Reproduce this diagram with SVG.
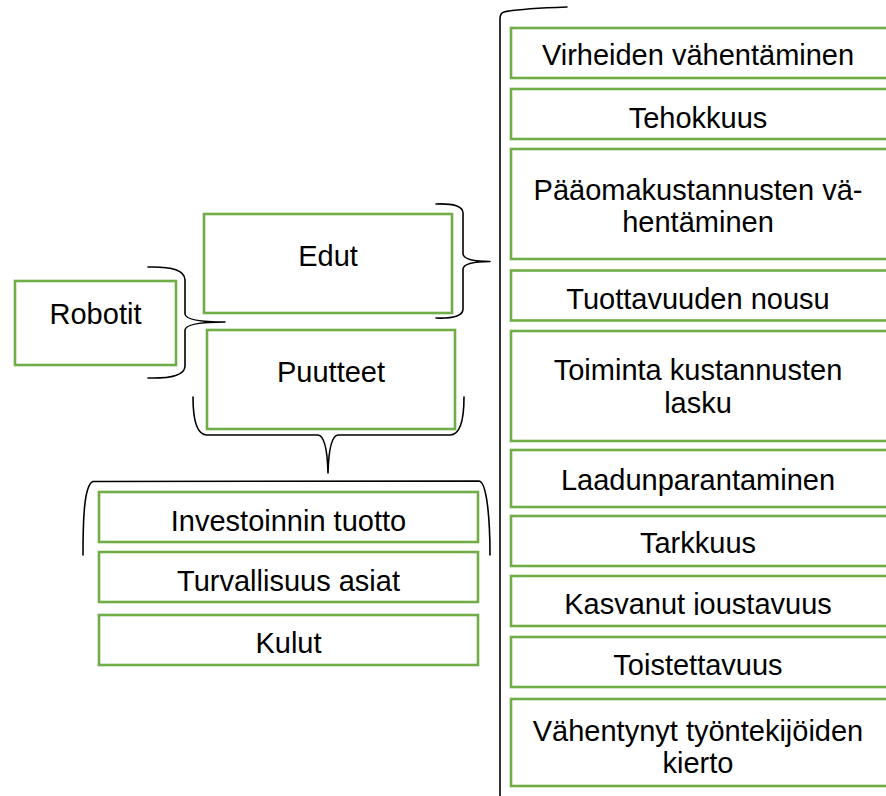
<svg xmlns="http://www.w3.org/2000/svg" width="886" height="796" viewBox="0 0 886 796">
  <style>
    .box { fill: #FFFFFF; stroke: #70AD47; stroke-width: 2.6; }
    .lbl { font-family: "Liberation Sans", Arial, sans-serif; font-size: 29px; fill: #000000; text-anchor: middle; }
    .brace { fill: none; stroke: #000000; stroke-width: 1.6; stroke-linecap: round; stroke-linejoin: round; }
  </style>
  <defs>
    <clipPath id="clip-kasvanut">
      <rect x="511" y="576" width="380" height="39"/>
    </clipPath>
  </defs>
  <rect width="886" height="796" fill="#FFFFFF"/>

  <!-- brackets -->
  <g id="connectors">
    <path class="brace" d="M148,267 Q185,266 185,280 L185,314 Q186,322 225,322 M225,322 Q186,322 185,330 L185,366 Q185,379 148,378"/>
    <path class="brace" d="M436,204 Q463,203 463,213 L463,254 Q464,261.5 490,261.5 M490,261.5 Q464,261.5 463,269 L463,309 Q463,319 436,318"/>
    <path class="brace" d="M193,397 Q193,435 207,435 L318,435 Q327,436 328,473 M328,473 Q329,436 338,435 L450,435 Q464,435 464,397"/>
    <path class="brace" d="M83,555 C83,520 84,485 93,481.5 L479,481 C487,482 490,520 490,555"/>
    <path class="brace" d="M567,7 C540,8 512,10 504,12 Q500,13 500,19 L500,800"/>
  </g>

  <g id="robotit">
    <rect class="box" x="15" y="281" width="161" height="84"/>
    <text class="lbl" x="95.5" y="324">Robotit</text>
  </g>
  <g id="edut">
    <rect class="box" x="204" y="214" width="248" height="99"/>
    <text class="lbl" x="328" y="266">Edut</text>
  </g>
  <g id="puutteet">
    <rect class="box" x="207" y="330" width="248" height="99"/>
    <text class="lbl" x="331" y="382">Puutteet</text>
  </g>

  <g id="investoinnin-tuotto">
    <rect class="box" x="99" y="492" width="379" height="50"/>
    <text class="lbl" x="288.5" y="531">Investoinnin tuotto</text>
  </g>
  <g id="turvallisuus-asiat">
    <rect class="box" x="99" y="552" width="379" height="50"/>
    <text class="lbl" x="288.5" y="591">Turvallisuus asiat</text>
  </g>
  <g id="kulut">
    <rect class="box" x="99" y="615" width="379" height="50"/>
    <text class="lbl" x="288.5" y="653">Kulut</text>
  </g>

  <g id="virheiden-vahentaminen">
    <rect class="box" x="511" y="28" width="385" height="50"/>
    <text class="lbl" x="698" y="65">Virheiden vähentäminen</text>
  </g>
  <g id="tehokkuus">
    <rect class="box" x="511" y="89" width="385" height="50"/>
    <text class="lbl" x="698" y="128">Tehokkuus</text>
  </g>
  <g id="paaomakustannusten-vahentaminen">
    <rect class="box" x="511" y="149" width="385" height="110"/>
    <text class="lbl" x="698" y="200">Pääomakustannusten vä-</text>
    <text class="lbl" x="698" y="232">hentäminen</text>
  </g>
  <g id="tuottavuuden-nousu">
    <rect class="box" x="511" y="270.5" width="385" height="50"/>
    <text class="lbl" x="698" y="309">Tuottavuuden nousu</text>
  </g>
  <g id="toiminta-kustannusten-lasku">
    <rect class="box" x="511" y="331" width="385" height="110"/>
    <text class="lbl" x="698" y="380">Toiminta kustannusten</text>
    <text class="lbl" x="698" y="413">lasku</text>
  </g>
  <g id="laadunparantaminen">
    <rect class="box" x="511" y="450" width="385" height="57"/>
    <text class="lbl" x="698" y="490">Laadunparantaminen</text>
  </g>
  <g id="tarkkuus">
    <rect class="box" x="511" y="516" width="385" height="50"/>
    <text class="lbl" x="698" y="553">Tarkkuus</text>
  </g>
  <g id="kasvanut-joustavuus">
    <rect class="box" x="511" y="576" width="385" height="50"/>
    <text class="lbl" x="698" y="614" clip-path="url(#clip-kasvanut)">Kasvanut joustavuus</text>
  </g>
  <g id="toistettavuus">
    <rect class="box" x="511" y="637" width="385" height="50"/>
    <text class="lbl" x="698" y="675">Toistettavuus</text>
  </g>
  <g id="vahentynyt-tyontekijoiden-kierto">
    <rect class="box" x="511" y="699" width="385" height="87"/>
    <text class="lbl" x="698" y="741">Vähentynyt työntekijöiden</text>
    <text class="lbl" x="698" y="773">kierto</text>
  </g>
</svg>
